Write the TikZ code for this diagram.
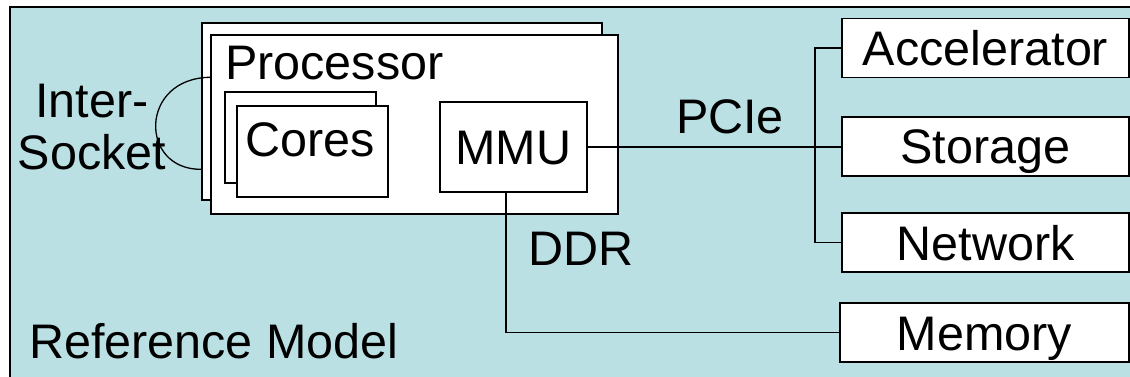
\documentclass[tikz,border=0pt]{standalone}
\usepackage{fontspec}
\setmainfont{Liberation Sans}
\usepackage{xcolor}
\usepackage{tikz}
\usetikzlibrary{calc}
\usetikzlibrary{positioning}
\definecolor{bgblue}{RGB}{186,224,227}

\begin{document}
\begin{tikzpicture}[x=1pt, y=-1pt,
  chip/.style={rectangle, draw, line width=1.4pt, fill=white, inner sep=0pt, text height=35pt, text depth=0pt, font=\fontsize{48.5}{52}\selectfont},
  dev/.style={chip, minimum width=287pt, minimum height=59pt},
  lbl/.style={inner sep=0pt, font=\fontsize{48.5}{52}\selectfont},
  wire/.style={line width=1.3pt}]

  \useasboundingbox (0,0) rectangle (1130,377);
  \fill[bgblue] (10,7) rectangle (1130,377);
  \draw[line width=2pt] (10,377) -- (10,7) -- (1130,7);

  \node[chip, minimum width=400pt, minimum height=177pt] (procback) at (402,111.5) {};
  \node[chip, minimum width=407pt, minimum height=179pt] (proc) at (414.5,124.5) {};
  \node[lbl, anchor=base west] (proclbl) at (225,80) {Processor};

  \node[chip, minimum width=151pt, minimum height=91pt] (coresback) at (300.5,137.5) {};
  \node[chip, minimum width=151pt, minimum height=91pt] (cores) at (312.5,151.5) {};
  \node[lbl, anchor=base] (coreslbl) at (310.5,157) {Cores};
  \node[chip, minimum width=147pt, minimum height=90pt] (mmu) at (513.5,147) {MMU};

  \node[dev] (accel) at (985.5,48) {Accelerator};
  \node[dev] (storage) at (985.5,146.5) {Storage};
  \node[dev] (network) at (985.5,242.5) {Network};
  \node[dev, minimum width=289pt] (memory) at (984.5,332.5) {Memory};

  \coordinate (bus) at (815,0);
  \draw[wire] (mmu.east) -- (mmu.east -| storage.west);
  \draw[wire] (accel.west) -- (accel.west -| bus) -- (network.west -| bus) -- (network.west);
  \draw[wire] ([xshift=-7.5pt]mmu.south) |- (memory.west);
  \draw[wire] ($(proc.north west)+(0,43)$) .. controls (139,78) and (139,170) .. ($(procback.north west)+(0,147)$);

  \node[lbl, anchor=base] (pcie) at (730,134) {PCIe};
  \node[lbl, anchor=base] (ddr) at (581,265) {DDR};
  \node[lbl, align=center] (socket) at (92,127.5) {Inter-\\Socket};
  \node[lbl, anchor=base west] (refmodel) at (29,358) {Reference Model};
\end{tikzpicture}
\end{document}
